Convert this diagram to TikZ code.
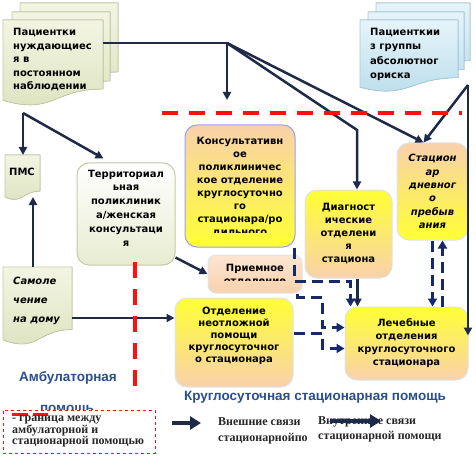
\documentclass[tikz,border=0pt]{standalone}
\usepackage{fontspec}
\setmainfont{DejaVu Sans}
\newfontfamily\zonefont{Liberation Sans}
\newfontfamily\legfont{Liberation Serif}
\usetikzlibrary{arrows.meta,positioning,calc}
\definecolor{navy}{HTML}{1E2A48}
\definecolor{dashnavy}{HTML}{15296B}
\definecolor{redl}{HTML}{FF1010}
\definecolor{peach}{HTML}{F9D1AC}
\definecolor{lemon}{HTML}{FFFF33}
\definecolor{palepeach}{HTML}{FCE6D2}
\definecolor{boxedge}{HTML}{DDE3EA}
\definecolor{zoneblue}{HTML}{2A4E8E}
\definecolor{sagetop}{HTML}{F3F5E3}
\definecolor{sagebot}{HTML}{DCE3BE}
\definecolor{sageedge}{HTML}{C3CBA4}
\definecolor{skytop}{HTML}{E6F4FA}
\definecolor{skybot}{HTML}{B9DDEB}
\definecolor{skyedge}{HTML}{A5CBDB}
\newcommand{\boxfnt}{\bfseries\fontsize{10}{13}\selectfont}
% one sheet of a document stack: style, x1, y1, x2, y2
\newcommand{\docsheet}[5]{%
  \filldraw[#1] (#2,#3) -- (#4,#3) -- (#4,{#3+0.802*(#5-#3)})
    .. controls ({(#2+#4)/2},{#3+0.802*(#5-#3)}) and ({(#2+#4)/2},{#3+1.107*(#5-#3)})
    .. (#2,{#3+0.934*(#5-#3)}) -- cycle;}

\begin{document}
\begin{tikzpicture}[x=1pt, y=-1pt,
  sage/.style={top color=sagetop, bottom color=sagebot, draw=sageedge, line width=0.8pt},
  sky/.style={top color=skytop, bottom color=skybot, draw=skyedge, line width=0.8pt},
  box/.style={rectangle, rounded corners=12pt, draw=boxedge, line width=1pt,
              align=center, inner sep=0pt, font=\boxfnt},
  warm/.style={top color=peach, bottom color=lemon},
  sunny/.style={top color=lemon, bottom color=peach},
  boxtext/.style={align=center, inner sep=0pt, font=\boxfnt},
  doctext/.style={align=left, inner sep=0pt, font=\bfseries\fontsize{10}{13.5}\selectfont},
  plain/.style={draw=navy, line width=2.5pt},
  link/.style={draw=navy, line width=2.5pt, -{Triangle[length=8pt,width=8pt]}},
  inlink/.style={draw=dashnavy, line width=3pt, dash pattern=on 11pt off 6pt,
                 -{Triangle[length=8pt,width=9pt]}},
  border/.style={draw=redl, line width=4pt, dash pattern=on 16pt off 11pt},
  zone/.style={font=\zonefont\bfseries\fontsize{13.5}{15}\selectfont, text=zoneblue, inner sep=0pt},
  legtext/.style={align=left, inner sep=0pt, text=black!85,
                  font=\legfont\bfseries\fontsize{12}{11}\selectfont},
]
  \fill[white] (0,0) rectangle (476,457);
  \useasboundingbox (0,0) rectangle (476,457);

  % patients (left and right document stacks)
  \docsheet{sage}{20}{3}{118}{89}
  \docsheet{sage}{12}{12}{110}{98}
  \docsheet{sage}{3}{20}{103}{106}
  \node[doctext, anchor=west] (nabl) at (13,60)
       {Пациентки\\нуждающиес\\я в\\постоянном\\наблюдении};
  \docsheet{sky}{376}{3}{470}{75}
  \docsheet{sky}{368}{12}{464}{84}
  \docsheet{sky}{360}{20}{458}{92}
  \node[doctext, anchor=west, font=\bfseries\fontsize{10}{14.3}\selectfont] (risk)
       at (370,54.5) {Пациенткии\\з группы\\абсолютног\\ориска};

  % outpatient side
  \docsheet{sage}{5}{155}{40}{200}
  \node[boxtext] (pms) at (22,172) {ПМС};
  \docsheet{sage}{3}{267}{72}{345}
  \node[doctext, anchor=west, font=\bfseries\itshape\fontsize{10}{19}\selectfont] (self)
       at (13,301) {Самоле\\чение\\на дому};
  \node[box, top color=white, bottom color=sagetop!50!sagebot, draw=sageedge,
        minimum width=98pt, minimum height=102pt] (terr) at (126,214) {};
  \node[boxtext, font=\bfseries\fontsize{10}{13.8}\selectfont] (terrtxt) at (126,208)
       {Территориал\\ьная\\поликлиник\\а/женская\\консультаци\\я};

  % inpatient side
  \node[box, warm, draw=boxedge!70!blue, minimum width=110pt, minimum height=122pt]
       (kons) at (240,186) {};
  \begin{scope}
    \clip (185,125) rectangle (295,232);
    \node[boxtext] (konstxt) at (240,187.5)
         {Консультативн\\ое\\поликлиничес\\кое отделение\\круглосуточно\\го\\стационара/ро\\дильного};
  \end{scope}
  \node[box, top color=palepeach, bottom color=peach, rounded corners=8pt,
        minimum width=94pt, minimum height=38pt] (priem) at (255,274) {};
  \begin{scope}
    \clip (208,255) rectangle (302,280);
    \node[boxtext] (priemtxt) at (255,275.5) {Приемное\\отделение};
  \end{scope}
  \node[box, sunny, minimum width=118pt, minimum height=89pt] (neotl) at (234,342.5) {};
  \node[boxtext, font=\bfseries\fontsize{10}{12}\selectfont] (neotltxt) at (234,336)
       {Отделение\\неотложной\\помощи\\круглосуточног\\о стационара};
  \node[box, sunny, minimum width=87pt, minimum height=88pt] (diag) at (348.5,234)
       {Диагност\\ические\\отделени\\я\\стациона};
  \node[box, warm, minimum width=71pt, minimum height=97pt,
        font=\bfseries\itshape\fontsize{10}{13.4}\selectfont] (stac) at (432.5,191.5)
       {Стацион\\ар\\дневног\\о\\пребыв\\ания};
  \node[box, sunny, minimum width=123pt, minimum height=73pt] (lech) at (406.5,343.5)
       {Лечебные\\отделения\\круглосуточного\\стационара};

  % external links
  \coordinate (nablout) at (103,43);
  \coordinate (j1) at (227,43);
  \coordinate (konsin) at (227,100);
  \coordinate (kink) at (357,130);
  \coordinate (j2) at (23,113);
  \coordinate (pmstop) at (23,155);
  \coordinate (pmsbot) at (33,197);
  \coordinate (selftop) at (33,267);
  \coordinate (selfout) at (72,318);
  \coordinate (j3) at (468,85);
  \coordinate (lechside) at ([yshift=8pt]lech.east);
  \draw[plain] (nablout) -- (j1);
  \draw[link] (j1) -- (konsin);
  \draw[link] (j1) -- ([xshift=-9pt]stac.north);
  \draw[link] (j1) -- (kink) -- (kink |- diag.north);
  \draw[link] (j2) -- (pmstop);
  \draw[link] (j2) -- ([xshift=27pt,yshift=4pt]terr.north west);
  \draw[link] (selftop) -- (pmsbot);
  \draw[link] (selfout) -- (neotl.west |- selfout);
  \draw[link] ([yshift=8pt]terr.south east) -- (priem.west);
  \draw[link] (j3) -- ([xshift=-9pt]stac.north);
  \draw[link] (j3) -- (j3 |- lechside);
  \draw[link] ([xshift=9pt]diag.south) -- ([xshift=9pt]diag.south |- lech.north);

  % internal links
  \draw[inlink] ([xshift=-1pt]kons.south east) |- ([xshift=-56pt,yshift=25pt]lech.north)
        -- ([xshift=-56pt]lech.north);
  \draw[inlink] ([xshift=-5pt]priem.south east) -- ++(0,4) -- ++(25,0)
        |- ([yshift=16pt]lech.west);
  \draw[inlink] ([yshift=9pt]neotl.east) -- ++(29,0) |- ([yshift=-5pt]lech.west);
  \draw[inlink] (stac.south) -- (stac.south |- lech.north);
  \draw[inlink] ([xshift=10pt]stac.south |- lech.north) -- ([xshift=10pt]stac.south);

  % border between outpatient and inpatient care
  \draw[border] (162,113) -- (462,113);
  \draw[border] (135,262) -- (135,395);

  % zone labels
  \node[zone] (amb) at (68,378) {Амбулаторная};
  \node[zone] (ambp) at (67,410) {помощь};
  \node[zone] (stat) at (315,397) {Круглосуточная стационарная помощь};

  % legend
  \node[draw=redl, dashed, line width=0.6pt, fill=white, inner sep=0pt,
        minimum width=152pt, minimum height=43pt, anchor=north west] (legbox) at (3,410) {};
  \draw[border, line width=3pt, dash pattern=on 16pt off 5pt] (12,414) -- (48,414);
  \node[legtext, anchor=west] (legtxt) at (12,431.5)
       {- граница между\\амбулаторной и\\стационарной помощью};
  \coordinate (extA) at (172,423);
  \coordinate (extB) at (201,423);
  \draw[link, line width=4pt, -{Triangle[length=11pt,width=13pt]}] (extA) -- (extB);
  \node[legtext, anchor=west, font=\legfont\bfseries\fontsize{12}{16}\selectfont] (extleg)
       at (218,431) {Внешние связи\\стационарнойпо};
  \node[legtext, anchor=west, font=\legfont\bfseries\fontsize{12}{15}\selectfont] (intleg)
       at (318,429.5) {Внутренние связи\\стационарной помощи};
  \coordinate (intA) at (330,421);
  \coordinate (intB) at (381,421);
  \draw[link, line width=4pt, -{Triangle[length=11pt,width=13pt]}] (intA) -- (intB);
\end{tikzpicture}
\end{document}
